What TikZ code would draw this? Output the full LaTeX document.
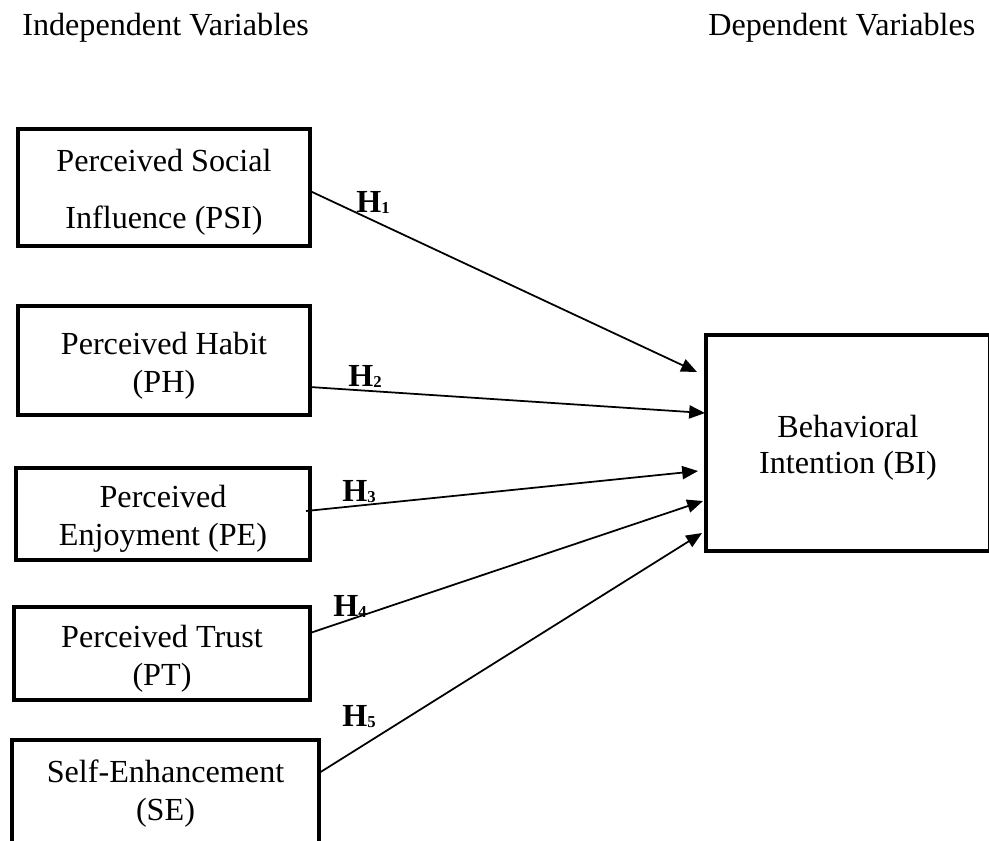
\documentclass[tikz,border=0pt]{standalone}
\usepackage{fontspec}
\setmainfont{Liberation Serif}
\usetikzlibrary{arrows.meta}

\newcommand{\hyp}[1]{\textbf{H\raisebox{-0.6pt}{\fontsize{9.5}{10}\selectfont #1}}}

\tikzset{
  varbox/.style={draw, line width=2pt, align=center, inner sep=0pt, text depth=0pt},
  hlabel/.style={anchor=base west, inner sep=0pt, font=\fontsize{18.3}{20}\selectfont},
  path/.style={->, line width=1pt}
}

\begin{document}
\begin{tikzpicture}[x=0.02cm, y=-0.02cm, >={Triangle[length=9pt, width=7.5pt]},
  every node/.style={font=\fontsize{18.3}{21.5}\selectfont}]
  % 1. page frame (the lower box and the right box run past the edge)
  \path[use as bounding box, clip] (0,0) rectangle (989,840);

  % 2. column headings
  \node[hlabel] (indep) at (22,35) {Independent Variables};
  \node[hlabel] (dep) at (708,35) {Dependent Variables};

  % 3. independent variables
  \node[varbox, minimum width=5.84cm, minimum height=2.34cm, text height=1.62cm,
        font=\fontsize{18.3}{32}\selectfont] (psi) at (164,187.5) {Perceived Social\\Influence (PSI)};
  \node[varbox, minimum width=5.84cm, minimum height=2.18cm, text height=1.26cm] (ph) at (164,360.5) {Perceived Habit\\(PH)};
  \node[varbox, minimum width=5.88cm, minimum height=1.84cm, text height=1.24cm] (pe) at (163,514) {Perceived\\Enjoyment (PE)};
  \node[varbox, minimum width=5.92cm, minimum height=1.86cm, text height=1.26cm] (pt) at (162,653.5) {Perceived Trust\\(PT)};
  \node[varbox, minimum width=6.14cm, minimum height=2.4cm, text height=0.8cm] (se) at (165.5,800) {Self-Enhancement\\(SE)};

  % 4. dependent variable
  \node[varbox, minimum width=5.68cm, minimum height=4.32cm, text height=1.2cm,
        font=\fontsize{18.3}{20}\selectfont] (bi) at (848,443) {Behavioral\\Intention (BI)};

  % 5. arrow ends
  \coordinate (psi-out) at (310,191);
  \coordinate (ph-out) at (310,387);
  \coordinate (pe-out) at (306,511);
  \coordinate (pt-out) at (310,633);
  \coordinate (se-out) at (319,773);
  \coordinate (bi-in1) at (697,372);
  \coordinate (bi-in2) at (705,413);
  \coordinate (bi-in3) at (698,471);
  \coordinate (bi-in4) at (703,501);
  \coordinate (bi-in5) at (702,533);

  \draw[path] (psi-out) -- (bi-in1);
  \draw[path] (ph-out) -- (bi-in2);
  \draw[path] (pe-out) -- (bi-in3);
  \draw[path] (pt-out) -- (bi-in4);
  \draw[path] (se-out) -- (bi-in5);

  % 6. hypothesis labels
  \node[hlabel] (h1) at (356,212) {\hyp{1}};
  \node[hlabel] (h2) at (348,386) {\hyp{2}};
  \node[hlabel] (h3) at (342,501) {\hyp{3}};
  \node[hlabel] (h4) at (333,616) {\hyp{4}};
  \node[hlabel] (h5) at (342,726) {\hyp{5}};
\end{tikzpicture}
\end{document}
